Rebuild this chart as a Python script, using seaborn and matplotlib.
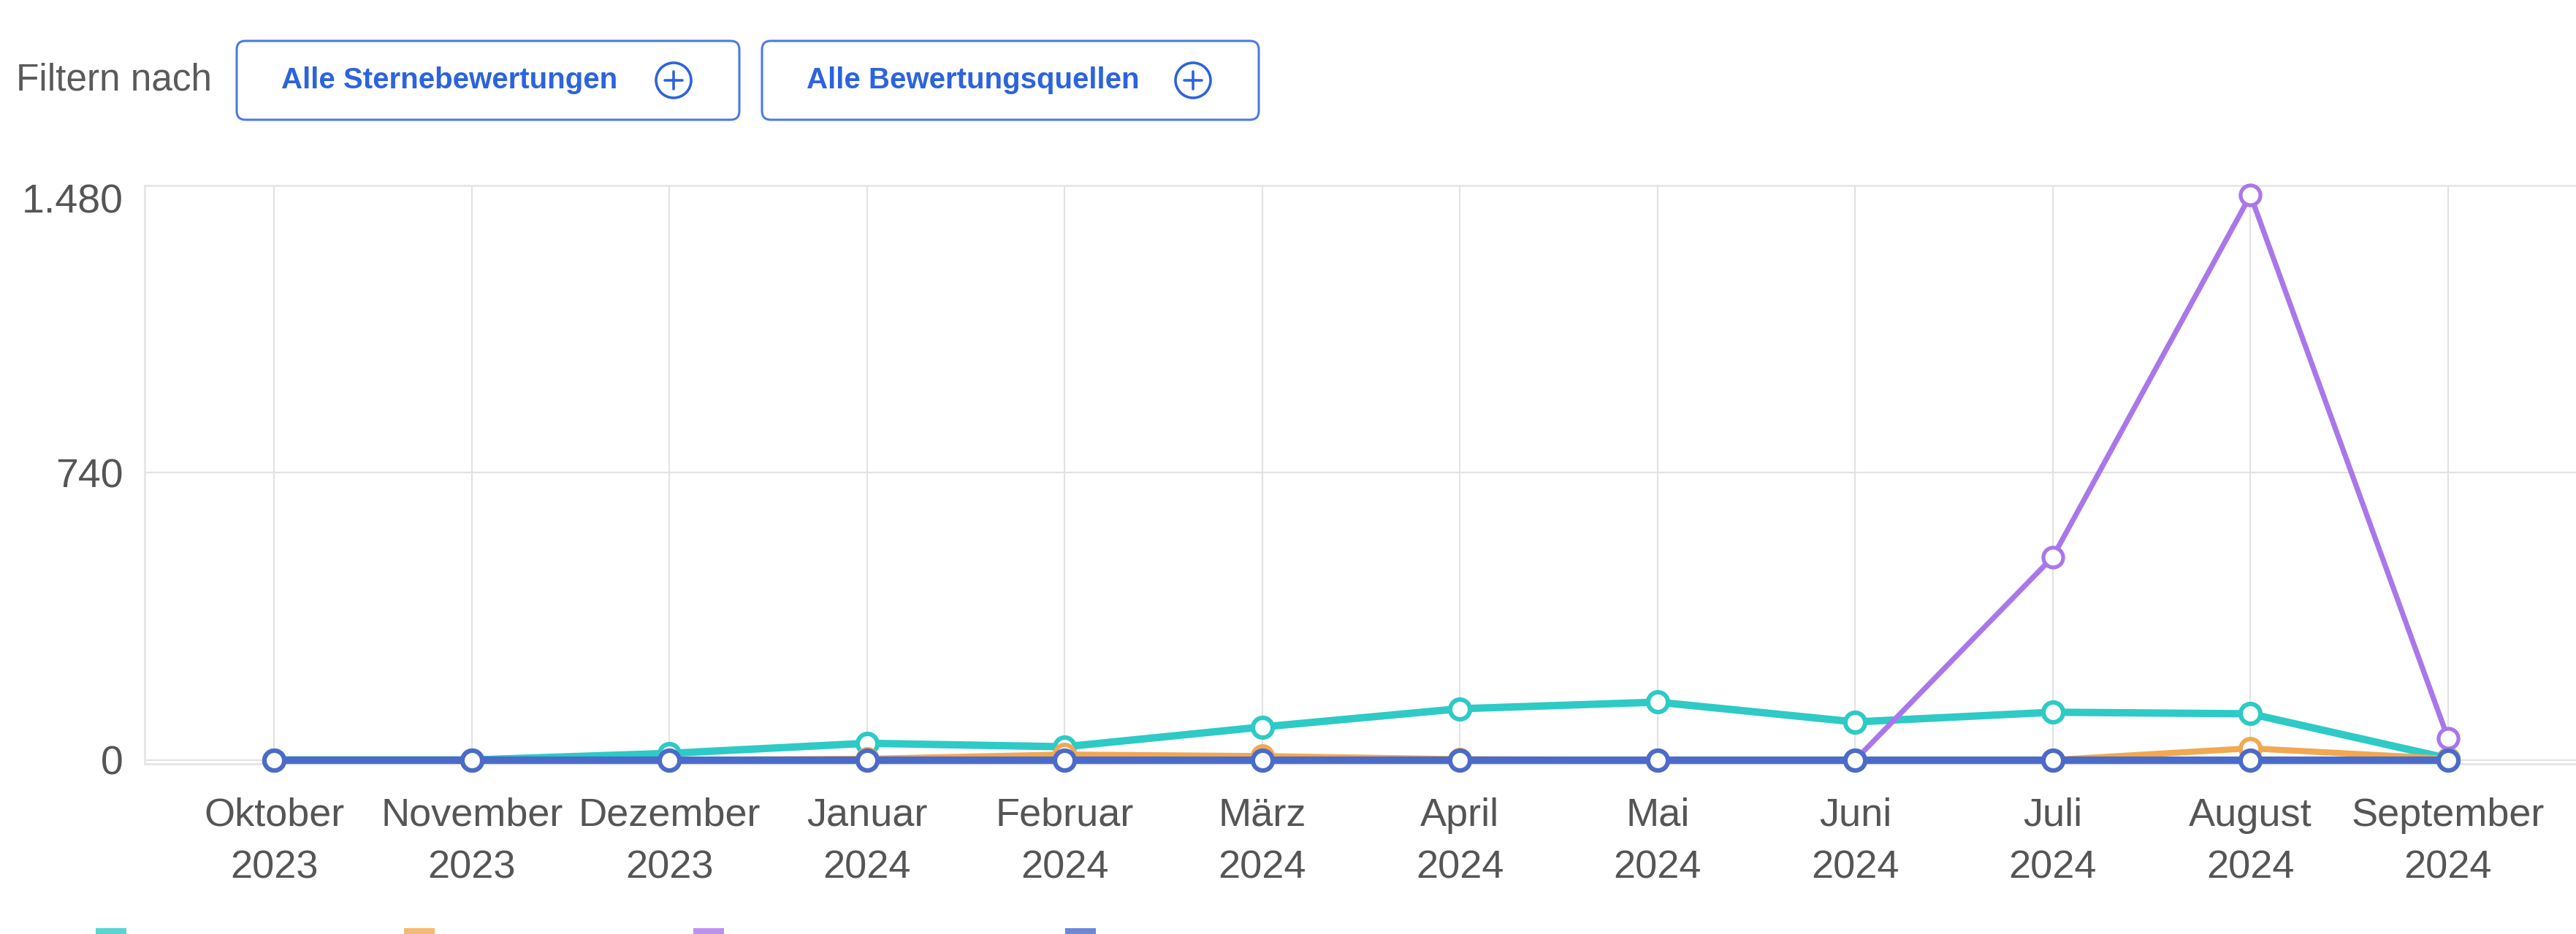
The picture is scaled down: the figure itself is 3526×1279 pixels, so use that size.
import numpy as np
import pandas as pd
import seaborn as sns
import matplotlib.pyplot as plt
from matplotlib.patches import FancyBboxPatch, Circle, Rectangle
from matplotlib.transforms import ScaledTranslation


# data
months = ["Oktober\n2023", "November\n2023", "Dezember\n2023", "Januar\n2024",
          "Februar\n2024", "März\n2024", "April\n2024", "Mai\n2024",
          "Juni\n2024", "Juli\n2024", "August\n2024", "September\n2024"]
teal_vals = [0, 0, 17, 43, 34, 85, 132, 149, 98, 123, 119, 4]
orange_vals = [0, 0, 0, 3, 14, 10, 2, 0, 0, 0, 30, 3]
purple_vals = [0, 0, 0, 0, 0, 0, 0, 0, 0, 523, 1455, 55]
blue_vals = [0, 0, 0, 0, 0, 0, 0, 0, 0, 0, 0, 0]
y_ticks = [0, 740, 1480]
y_tick_labels = ["0", "740", "1.480"]

series = [
    ("teal", teal_vals, "#2ECAC6", 7.3, 4.4),
    ("orange", orange_vals, "#F2A850", 6.0, 4.2),
    ("purple", purple_vals, "#A977EA", 5.2, 3.8),
    ("blue", blue_vals, "#4A6BC9", 7.3, 4.4),
]

sns.set_style("white")
plt.rcParams["font.family"] = ["Liberation Sans", "DejaVu Sans"]

W, H = 3526, 1279
fig = plt.figure(figsize=(W / 100, H / 100), dpi=100)
fig.patch.set_facecolor("white")

ax = fig.add_axes([198 / W, 1 - 1046 / H, 1 - 198 / W, (1046 - 254) / H])
pos = np.arange(len(months))

for name, vals, col, lw, mew in series:
    df = pd.DataFrame({"x": pos, "y": vals})
    sns.lineplot(data=df, x="x", y="y", ax=ax, color=col, linewidth=lw,
                 marker="o", markersize=19.5, markerfacecolor="white",
                 markeredgecolor=col, markeredgewidth=mew, clip_on=False,
                 zorder=3)

ax.set_xlim(-0.655, 11.647)
ax.set_ylim(-10, 1480)
ax.set_xlabel("")
ax.set_ylabel("")

ax.set_xticks(pos, months)
ax.set_yticks(y_ticks, y_tick_labels)
ax.tick_params(axis="x", length=0, pad=33, labelsize=39, colors="#555555")
ax.tick_params(axis="y", length=0, pad=21, labelsize=40, colors="#555555")
for lbl in ax.get_xticklabels():
    lbl.set_linespacing(1.55)
# the top label sits a little below its gridline
top_lbl = ax.get_yticklabels()[-1]
top_lbl.set_transform(top_lbl.get_transform() + ScaledTranslation(0, -17 / 100, fig.dpi_scale_trans))

ax.grid(True, axis="both", color="#e2e2e2", linewidth=1.5)
ax.set_axisbelow(True)
for side in ["left", "top", "bottom"]:
    ax.spines[side].set_color("#e6e6e6")
    ax.spines[side].set_linewidth(2)
ax.spines["right"].set_visible(False)

# filter bar on top, in pixel coordinates
ov = fig.add_axes([0, 0, 1, 1])
ov.set_xlim(0, W)
ov.set_ylim(H, 0)
ov.axis("off")
ov.patch.set_alpha(0)

btn_blue = "#2C63DE"
ov.text(22, 110, "Filtern nach", ha="left", va="center", fontsize=37, color="#5a5a5a")

buttons = [("Alle Sternebewertungen", 324, 1012), ("Alle Bewertungsquellen", 1043, 1723)]
for txt, x0, x1 in buttons:
    ov.add_patch(FancyBboxPatch((x0, 56), x1 - x0, 108,
                                boxstyle="round,pad=0,rounding_size=12",
                                fc="white", ec="#4a7be6", lw=2.2))
    ov.text(x0 + 61, 110, txt, ha="left", va="center", fontsize=29,
            fontweight="bold", color=btn_blue)
    cx = x1 - 90
    ov.add_patch(Circle((cx, 110), 24, fill=False, ec=btn_blue, lw=2.6))
    ov.plot([cx - 12, cx + 12], [110, 110], color=btn_blue, lw=2.6)
    ov.plot([cx, cx], [98, 122], color=btn_blue, lw=2.6)

# legend swatches, cut off by the bottom edge
legend_x = [131, 553, 949, 1458]
for x0, (name, vals, col, lw, mew) in zip(legend_x, series):
    ov.add_patch(Rectangle((x0, 1271), 42, 20, fc=col, ec="none", alpha=0.8))

fig.savefig("out.png", dpi=100, facecolor="white")
